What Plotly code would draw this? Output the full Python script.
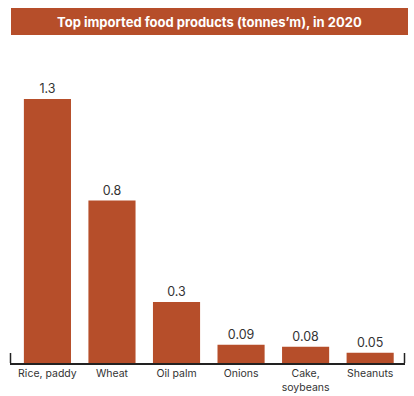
import plotly.graph_objects as go

categories = ["Rice, paddy", "Wheat", "Oil palm", "Onions", "Cake,<br>soybeans", "Sheanuts"]
values = [1.3, 0.8, 0.3, 0.09, 0.08, 0.05]
value_labels = ["1.3", "0.8", "0.3", "0.09", "0.08", "0.05"]
title_text = "Top imported food products (tonnes\u2019m), in 2020"

bar_color = "#B64E2A"
text_color = "#333333"

fig = go.Figure(go.Bar(
    x=list(range(len(categories))),
    y=values,
    text=value_labels,
    textposition="outside",
    textfont=dict(size=12.5, color=text_color, family="Inter"),
    marker=dict(color=bar_color, line=dict(width=0)),
    width=0.73,
    cliponaxis=False,
    hoverinfo="skip",
))

L, R, T, B = 10, 9, 40, 33
W, H = 414, 396
pw = W - L - R
ph = H - T - B

def px_x(x):
    return (x - L) / pw

def px_y(y):
    return (H - B - y) / ph

fig.update_layout(
    width=W, height=H,
    margin=dict(l=L, r=R, t=T, b=B, autoexpand=False),
    paper_bgcolor="white", plot_bgcolor="white",
    showlegend=False,
    font=dict(family="Inter", color=text_color),
    xaxis=dict(
        range=[-0.58, 5.54],
        tickmode="array",
        tickvals=list(range(len(categories))),
        ticktext=categories,
        tickfont=dict(size=10.5, color=text_color),
        showgrid=False, zeroline=False,
        showline=True, linecolor="#222222", linewidth=1.5,
        ticks="", fixedrange=True, automargin=False,
    ),
    yaxis=dict(
        range=[0, ph / 203.0],
        visible=False, showgrid=False, zeroline=False,
        fixedrange=True, automargin=False,
    ),
    shapes=[
        dict(type="rect", xref="paper", yref="paper",
             x0=px_x(11), x1=px_x(408), y0=px_y(35), y1=px_y(8),
             fillcolor=bar_color, line=dict(width=0), layer="below"),
        dict(type="line", xref="paper", yref="paper",
             x0=px_x(10.5), x1=px_x(10.5), y0=0, y1=px_y(353),
             line=dict(color="#222222", width=1.5)),
        dict(type="line", xref="paper", yref="paper",
             x0=px_x(404.5), x1=px_x(404.5), y0=0, y1=px_y(353),
             line=dict(color="#222222", width=1.5)),
    ],
    annotations=[
        dict(text="<b>" + title_text + "</b>", xref="paper", yref="paper",
             x=px_x(209.5), y=px_y(21.5), xanchor="center", yanchor="middle",
             showarrow=False, font=dict(size=13, color="white", family="Inter")),
    ],
)

fig.write_html(
    "out.html",
    config={"displayModeBar": False, "staticPlot": True},
    post_script="document.body.style.margin='0';document.body.style.overflow='hidden';",
)
